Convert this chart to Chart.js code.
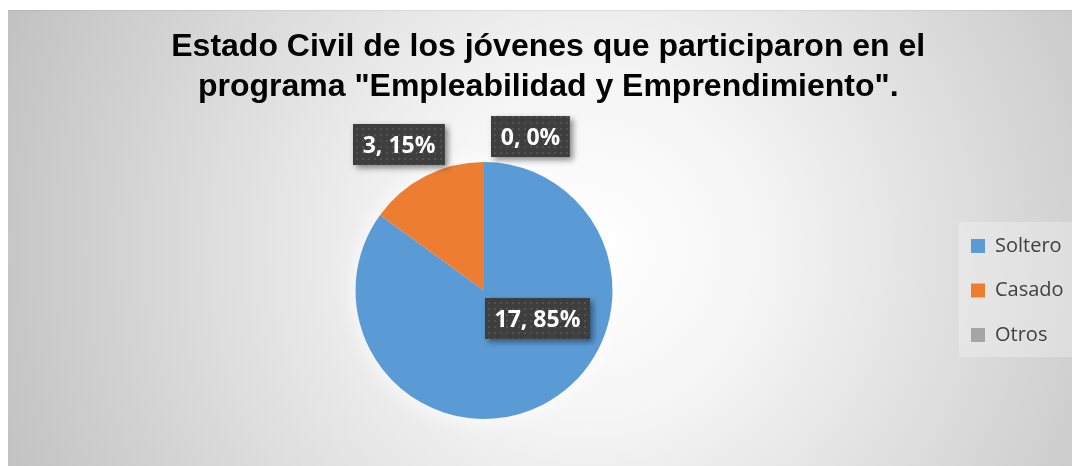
<!DOCTYPE html>
<html>
<head>
<meta charset="utf-8">
<script src="https://cdn.jsdelivr.net/npm/chart.js@4.4.0/dist/chart.umd.min.js"></script>
<style>
  html, body { margin: 0; padding: 0; background: #ffffff; }
  #wrap { width: 1075px; height: 466px; position: relative; }
  canvas { display: block; }
</style>
</head>
<body>
<div id="wrap"><canvas id="c" width="1075" height="466"></canvas></div>
<script>
// ---- data ----
const titleLines = ['Estado Civil de los jóvenes que participaron en el', 'programa "Empleabilidad y Emprendimiento".'];
const categories = ['Soltero', 'Casado', 'Otros'];
const values = [17, 3, 0];
const sliceColors = ['#5b9bd5', '#ed7d31', '#a5a5a5'];

// ---- label placement (relative to pie centre, in units of the radius) ----
const labelOffsets = [[0.416, 0.218], [-0.661, -1.136], [0.362, -1.198]];

const total = values.reduce((a, b) => a + b, 0);

const bgPlugin = {
  id: 'bg',
  beforeLayout(chart) {
    const lg = chart.legend;
    if (lg && !lg._patched) {
      const f = lg.fit;
      lg.fit = function () { f.call(this); if (!this.isHorizontal()) this.width = 128.5; };
      lg._patched = true;
    }
  },
  beforeDraw(chart) {
    const ctx = chart.ctx;
    const W = chart.width, H = chart.height;
    ctx.save();
    ctx.fillStyle = '#ffffff';
    ctx.fillRect(0, 0, W, H);
    const g = ctx.createRadialGradient(590, 250, 0, 590, 250, 640);
    g.addColorStop(0, '#ffffff');
    g.addColorStop(0.25, '#f6f6f6');
    g.addColorStop(1, '#c0c0c0');
    ctx.fillStyle = g;
    ctx.fillRect(8, 10, 1064, H - 10);
    ctx.fillStyle = 'rgba(0,0,0,0.06)';
    ctx.fillRect(8, 10, 1064, 1);
    // legend backdrop
    const lg = chart.legend;
    if (lg) {
      const cy = lg.top + lg.height / 2 - 1;
      ctx.fillStyle = 'rgba(255,255,255,0.28)';
      ctx.fillRect(lg.left + 12.5, cy - 67.5, 1072 - (lg.left + 12.5), 135);
    }
    ctx.restore();
  },
  beforeDatasetsDraw(chart) {
    const meta = chart.getDatasetMeta(0);
    const a = meta.data[0];
    if (!a) return;
    const ctx = chart.ctx;
    ctx.save();
    ctx.shadowColor = 'rgba(255,255,255,0.9)';
    ctx.shadowBlur = 22;
    ctx.fillStyle = '#ffffff';
    ctx.beginPath();
    ctx.arc(a.x, a.y, a.outerRadius, 0, Math.PI * 2);
    ctx.fill();
    ctx.restore();
  }
};

function makePattern(ctx) {
  const p = document.createElement('canvas');
  p.width = 6; p.height = 6;
  const pc = p.getContext('2d');
  pc.fillStyle = '#3e3e3e';
  pc.fillRect(0, 0, 6, 6);
  pc.fillStyle = '#525252';
  pc.fillRect(2, 2, 2, 2);
  return ctx.createPattern(p, 'repeat');
}

const labelPlugin = {
  id: 'boxLabels',
  afterDatasetsDraw(chart) {
    const ctx = chart.ctx;
    const meta = chart.getDatasetMeta(0);
    const pattern = makePattern(ctx);
    const fontSize = 23;
    ctx.save();
    ctx.font = '700 ' + fontSize + 'px "Open Sans", sans-serif';
    meta.data.forEach((arc, i) => {
      const r = arc.outerRadius;
      const cx = arc.x + labelOffsets[i][0] * r;
      const cy = arc.y + labelOffsets[i][1] * r;
      const pct = Math.round(values[i] / total * 100);
      const text = values[i] + ', ' + pct + '%';
      const tw = ctx.measureText(text).width;
      const bw = tw + 19, bh = 41;
      const x0 = Math.round(cx - bw / 2), y0 = Math.round(cy - bh / 2);
      ctx.save();
      ctx.shadowColor = 'rgba(0,0,0,0.45)';
      ctx.shadowBlur = 6;
      ctx.shadowOffsetX = 3;
      ctx.shadowOffsetY = 3;
      ctx.fillStyle = '#3e3e3e';
      ctx.fillRect(x0, y0, bw, bh);
      ctx.restore();
      ctx.fillStyle = pattern;
      ctx.fillRect(x0, y0, bw, bh);
      ctx.fillStyle = '#ffffff';
      ctx.textAlign = 'center';
      ctx.textBaseline = 'alphabetic';
      ctx.fillText(text, cx, cy + 0.357 * fontSize);
    });
    ctx.restore();
  }
};

new Chart(document.getElementById('c'), {
  type: 'pie',
  data: {
    labels: categories,
    datasets: [{
      data: values,
      backgroundColor: sliceColors,
      borderWidth: 0,
      hoverOffset: 0
    }]
  },
  options: {
    responsive: false,
    devicePixelRatio: 1,
    animation: false,
    events: [],
    layout: { padding: { left: 21.5, right: 0, top: 0, bottom: 47 } },
    plugins: {
      title: {
        display: true,
        text: titleLines,
        color: '#000000',
        font: { family: '"Liberation Sans", Arial, sans-serif', size: 32, weight: 'bold', lineHeight: '40px' },
        padding: { top: 27, bottom: 55 }
      },
      legend: {
        position: 'right',
        fullSize: false,
        align: 'center',
        labels: {
          boxWidth: 14,
          boxHeight: 14,
          padding: 24.5,
          color: '#404040',
          font: { family: '"Open Sans", sans-serif', size: 20 }
        }
      },
      tooltip: { enabled: false }
    }
  },
  plugins: [bgPlugin, labelPlugin]
});
</script>
</body>
</html>
